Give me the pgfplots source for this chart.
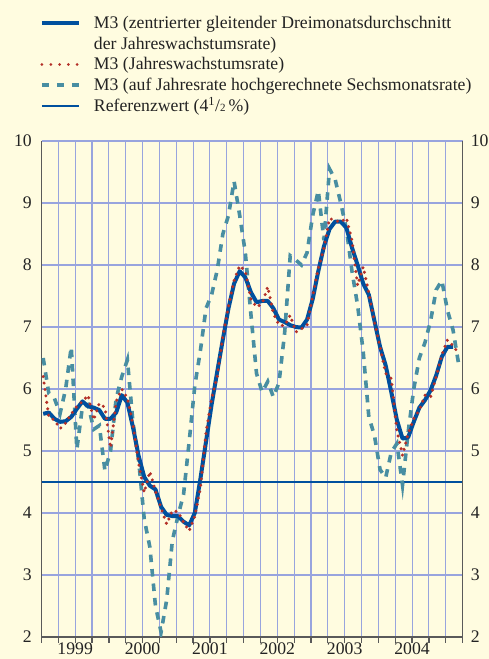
\documentclass[border=0pt]{standalone}
\usepackage{fontspec}
\setmainfont{Liberation Serif}
\usepackage{pgfplots}
\usepackage{pgfplotstable}
\pgfplotsset{compat=1.18}
\definecolor{bg}{RGB}{255,252,224}
\definecolor{gridc}{RGB}{152,164,222}
\definecolor{axc}{RGB}{90,90,90}
\definecolor{m3blue}{RGB}{0,80,158}
\definecolor{m3red}{RGB}{180,48,40}
\definecolor{m3teal}{RGB}{72,142,162}
\definecolor{txt}{RGB}{35,35,35}
\pgfplotstableread{
k blue red dash
0 5.60 6.20 6.50
1 5.62 5.55 5.93
2 5.52 5.50 5.85
3 5.47 5.36 5.60
4 5.48 5.45 6.00
5 5.55 5.60 6.68
6 5.68 5.72 5.03
7 5.80 5.80 5.72
8 5.72 5.90 5.75
9 5.70 5.50 5.35
10 5.66 5.77 5.41
11 5.52 5.70 4.68
12 5.52 5.05 5.00
13 5.62 5.80 5.85
14 5.90 6.00 6.20
15 5.78 5.85 6.47
16 5.38 5.42 5.45
17 4.92 4.80 4.85
18 4.58 4.33 3.90
19 4.44 4.67 3.45
20 4.38 4.35 2.50
21 4.10 4.08 2.08
22 3.97 3.82 2.60
23 3.95 4.04 3.55
24 3.95 4.02 3.95
25 3.86 3.85 4.30
26 3.80 3.71 5.15
27 4.00 3.95 6.05
28 4.55 4.40 6.62
29 5.15 5.30 7.30
30 5.75 5.85 7.52
31 6.28 6.20 7.92
32 6.80 6.85 8.50
33 7.30 7.33 8.80
34 7.70 7.75 9.35
35 7.90 7.99 8.80
36 7.80 7.90 8.20
37 7.56 7.45 7.20
38 7.40 7.32 6.25
39 7.42 7.38 5.95
40 7.42 7.65 6.12
41 7.30 7.22 5.87
42 7.12 7.03 6.10
43 7.08 7.02 6.90
44 7.03 7.19 8.15
45 7.00 6.92 8.08
46 6.99 6.97 8.00
47 7.12 7.03 8.20
48 7.45 7.50 8.80
49 7.90 7.95 9.20
50 8.30 8.27 8.40
51 8.58 8.75 9.55
52 8.70 8.72 9.38
53 8.70 8.69 9.00
54 8.60 8.76 8.58
55 8.28 8.40 7.90
56 8.00 7.67 7.35
57 7.70 7.97 6.60
58 7.52 7.55 5.55
59 7.10 7.08 5.25
60 6.68 6.68 4.70
61 6.38 6.25 4.57
62 5.95 6.17 4.98
63 5.50 5.33 5.12
64 5.20 4.93 4.45
65 5.22 5.28 5.30
66 5.47 5.52 6.00
67 5.70 5.66 6.50
68 5.82 5.90 6.75
69 5.98 5.87 7.10
70 6.22 6.20 7.60
71 6.52 6.55 7.75
72 6.68 6.79 7.27
73 6.68 6.70 6.95
74 nan 6.57 6.40
}\data
\newcommand{\lfont}{\fontsize{17.7bp}{20.5bp}\selectfont}
\begin{document}
\begin{tikzpicture}
\useasboundingbox (0,0) rectangle (489bp,659bp);
\fill[bg] (0,0) rectangle (489bp,659bp);
\begin{axis}[
  at={(41.5bp,22bp)}, anchor=south west,
  scale only axis, width=421.1bp, height=496bp,
  xmin=0, xmax=75, ymin=2, ymax=10,
  axis x line*=bottom, axis y line*=left,
  every outer x axis line/.append style={-},
  every outer y axis line/.append style={-},
  axis line style={-, draw=axc, line width=1.6bp},
  xtick={6,18,30,42,54,66},
  xticklabels={1999,2000,2001,2002,2003,2004},
  minor xtick={0,3,...,75},
  xminorgrids=true, xmajorgrids=false, ymajorgrids=true,
  grid style={gridc, line width=1.1bp},
  minor grid style={gridc, line width=1.1bp},
  ytick={2,3,...,10},
  tick align=outside,
  major tick length=0pt,
  minor tick length=5.5bp,
  tick style={axc, line width=1.3bp},
  /pgf/number format/assume math mode=true,
  ticklabel style={font=\lfont, text=txt},
  xticklabel style={anchor=base, inner sep=0pt, yshift=-18bp},
  yticklabel style={anchor=east, inner sep=0pt, xshift=-9.5bp},
  legend image code/.code={\draw[#1] (0bp,5.5bp) -- (37bp,5.5bp);},
  legend style={at={(-0.0036,1.2514)}, anchor=north west, draw=none, fill=none,
    inner sep=0pt, outer sep=0pt, row sep={20.7bp,between origins}, column sep=13bp,
    font=\lfont, text=txt, cells={anchor=base west}, nodes={inner sep=0pt}},
]
\addlegendimage{m3blue, line width=3.5bp}
\addlegendentry{M3 (zentrierter gleitender Dreimonatsdurchschnitt}
\addlegendimage{empty legend}
\addlegendentry{der Jahreswachstumsrate)}
\addlegendimage{m3red, line width=3bp, line cap=round, dash pattern=on 0bp off 8.8bp}
\addlegendentry{M3 (Jahreswachstumsrate)}
\addlegendimage{m3teal, line width=4bp, dash pattern=on 7bp off 8bp}
\addlegendentry{M3 (auf Jahresrate hochgerechnete Sechsmonatsrate)}
\addlegendimage{m3blue, line width=2bp}
\addlegendentry{Referenzwert (4\textsuperscript{1}/{\fontsize{11bp}{11bp}\selectfont 2}\,\%)}
\addplot[m3blue, line width=2.6bp, forget plot] coordinates {(0,4.5) (75,4.5)};
\addplot[m3teal, line width=3.6bp, dash pattern=on 7.5bp off 7bp, forget plot] table[x expr=\thisrow{k}+0.3, y=dash]{\data};
\addplot[m3blue, line width=4bp, line join=round, forget plot] table[x expr=\thisrow{k}+0.3, y=blue]{\data};
\addplot[m3red, line width=3.4bp, line cap=round, dash pattern=on 0bp off 6.5bp, forget plot] table[x expr=\thisrow{k}+0.3, y=red]{\data};
\end{axis}
\begin{axis}[
  at={(41.5bp,22bp)}, anchor=south west,
  scale only axis, width=421.1bp, height=496bp,
  xmin=0, xmax=75, ymin=2, ymax=10,
  axis x line=none, axis y line*=right,
  every outer y axis line/.append style={-},
  axis line style={-, draw=axc, line width=1.6bp},
  ytick={2,3,...,10}, major tick length=0pt,
  /pgf/number format/assume math mode=true,
  yticklabel style={anchor=west, inner sep=0pt, xshift=8bp, font=\lfont, text=txt},
]
\addplot[draw=none, forget plot] coordinates {(0,2)};
\end{axis}
\end{tikzpicture}
\end{document}
